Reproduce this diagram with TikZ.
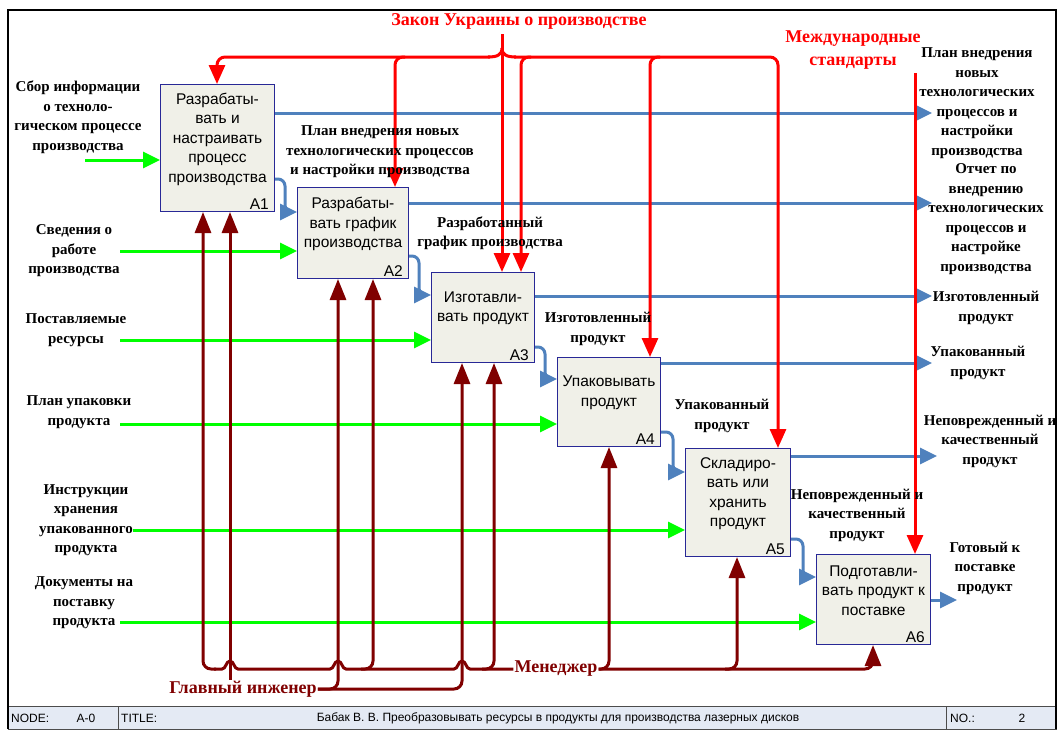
\documentclass[tikz,border=0pt]{standalone}
\usepackage{fontspec}
\setmainfont{Liberation Serif}
\setsansfont{Liberation Sans}
\usetikzlibrary{arrows.meta,calc}
\definecolor{cgreen}{RGB}{0,255,0}
\definecolor{cblue}{RGB}{79,129,189}
\definecolor{cred}{RGB}{255,0,0}
\definecolor{cmech}{RGB}{128,0,0}
\definecolor{boxfill}{RGB}{240,240,232}
\definecolor{boxline}{RGB}{40,40,150}
\definecolor{footfill}{RGB}{228,234,244}
\begin{document}
\begin{tikzpicture}[x=1pt,y=-1pt,
  box/.style={draw=boxline, fill=boxfill, line width=1pt, anchor=north west, inner sep=0pt},
  btext/.style={font=\sffamily\fontsize{15.5pt}{19.5pt}\selectfont, align=center, inner sep=0pt},
  bnum/.style={anchor=south east, font=\sffamily\fontsize{15.5pt}{18pt}\selectfont, inner xsep=6pt, inner ysep=2pt},
  lbl/.style={font=\bfseries\fontsize{15pt}{19.5pt}\selectfont, align=center, inner sep=0pt},
  redlbl/.style={font=\bfseries\fontsize{18pt}{23pt}\selectfont, text=cred, align=center, inner sep=0pt},
  mlbl/.style={font=\bfseries\fontsize{18pt}{23pt}\selectfont, text=cmech, inner sep=1pt},
  ftxt/.style={font=\sffamily\fontsize{12pt}{14pt}\selectfont, inner sep=0pt},
  gflow/.style={line width=3pt, draw=cgreen, -{Triangle[length=17pt,width=16pt]}},
  bflow/.style={line width=3pt, draw=cblue, rounded corners=7pt, -{Triangle[length=17pt,width=16pt]}},
  rflow/.style={line width=3pt, draw=cred, rounded corners=8pt, -{Triangle[length=19pt,width=16pt]}},
  rline/.style={line width=3pt, draw=cred},
  mflow/.style={line width=3pt, draw=cmech, rounded corners=8pt, -{Triangle[length=21pt,width=16pt]}},
  mline/.style={line width=3pt, draw=cmech}
]
\useasboundingbox (0,0) rectangle (1059,729);
\fill[white] (0,0) rectangle (1059,729);

% footer
\node[draw=black!70, fill=footfill, line width=0.8pt, minimum width=1048pt, minimum height=23pt, anchor=north west, inner sep=0pt] (foot) at (8,706) {};
\draw[black!70, line width=0.8pt] (118,706) -- (118,729) (946,706) -- (946,729);
\node[ftxt, anchor=west] (fnode) at (11,718) {NODE:};
\node[ftxt] (fnum) at (86,718) {A-0};
\node[ftxt, anchor=west] (ftitle) at (121,718) {TITLE:};
\node[ftxt] (ftext) at (558,718) {Бабак В. В. Преобразовывать ресурсы в продукты для производства лазерных дисков};
\node[ftxt, anchor=west] (fno) at (950,718) {NO.:};
\node[ftxt] (fno2) at (1022,718) {2};

% frame
\draw[line width=1.2pt] (8,729) -- (8,10) -- (1056,10) -- (1056,729);

% boxes
\node[box, minimum width=114pt, minimum height=127pt] (A1) at (160,84) {};
\node[box, minimum width=111pt, minimum height=91pt] (A2) at (297,187) {};
\node[box, minimum width=103pt, minimum height=90pt] (A3) at (431,272) {};
\node[box, minimum width=103pt, minimum height=89pt] (A4) at (557,357) {};
\node[box, minimum width=105pt, minimum height=108pt] (A5) at (685,448) {};
\node[box, minimum width=114pt, minimum height=90pt] (A6) at (816,554) {};

\node[btext] (A1t) at ($(A1.center)+(0,-9)$) {Разрабаты-\\вать и\\настраивать\\процесс\\производства};
\node[btext] (A2t) at ($(A2.center)+(0,-9)$) {Разрабаты-\\вать график\\производства};
\node[btext] (A3t) at ($(A3.center)+(0,-9)$) {Изготавли-\\вать продукт};
\node[btext] (A4t) at ($(A4.center)+(0,-9)$) {Упаковывать\\продукт};
\node[btext] (A5t) at ($(A5.center)+(0,-9)$) {Складиро-\\вать или\\хранить\\продукт};
\node[btext] (A6t) at ($(A6.center)+(0,-9)$) {Подготавли-\\вать продукт к\\поставке};
\node[bnum] (A1n) at (A1.south east) {A1};
\node[bnum] (A2n) at (A2.south east) {A2};
\node[bnum] (A3n) at (A3.south east) {A3};
\node[bnum] (A4n) at (A4.south east) {A4};
\node[bnum] (A5n) at (A5.south east) {A5};
\node[bnum] (A6n) at (A6.south east) {A6};

% free ends
\coordinate (g1) at (85,160);
\coordinate (g2) at (120,251);
\coordinate (g3) at (120,340);
\coordinate (g4) at (120,424);
\coordinate (g5) at (133,530);
\coordinate (g6) at (120,622);
\coordinate (o1) at (932,113);
\coordinate (o2) at (932,203);
\coordinate (o3) at (932,296);
\coordinate (o4) at (932,363);
\coordinate (o5) at (937,456);
\coordinate (o6) at (957,600);
\coordinate (lawsrc) at (502,34);
\coordinate (stdsrc) at (915,73);

% inputs
\draw[gflow] (g1) -- (A1.west |- g1);
\draw[gflow] (g2) -- (A2.west |- g2);
\draw[gflow] (g3) -- (A3.west |- g3);
\draw[gflow] (g4) -- (A4.west |- g4);
\draw[gflow] (g5) -- (A5.west |- g5);
\draw[gflow] (g6) -- (A6.west |- g6);

% outputs
\draw[bflow] (A1.east |- o1) -- (o1);
\draw[bflow] (A1.east |- 0,179) -- (285,179) -- (285,212) -- (A2.west |- 0,212);
\draw[bflow] (A2.east |- o2) -- (o2);
\draw[bflow] (A2.east |- 0,256) -- (419,256) -- (419,295) -- (A3.west |- 0,295);
\draw[bflow] (A3.east |- o3) -- (o3);
\draw[bflow] (A3.east |- 0,347) -- (545,347) -- (545,379) -- (A4.west |- 0,379);
\draw[bflow] (A4.east |- o4) -- (o4);
\draw[bflow] (A4.east |- 0,432) -- (673,432) -- (673,472) -- (A5.west |- 0,472);
\draw[bflow] (A5.east |- o5) -- (o5);
\draw[bflow] (A5.east |- 0,539) -- (803,539) -- (803,577) -- (A6.west |- 0,577);
\draw[bflow] (A6.east |- o6) -- (o6);

% controls
\draw[rflow] (lawsrc) -- (lawsrc |- A3.north);
\draw[rline] (488,57) .. controls (497,57) and (502,55) .. (502,48) .. controls (502,55) and (507,57) .. (516,57);
\draw[rflow] (490,57) -- (217,57) -- (217,0 |- A1.north);
\draw[rflow] (405,57) -- (395,57) -- (395,0 |- A2.north);
\draw[rflow] (531,57) -- (521,57) -- (521,0 |- A3.north);
\draw[rflow] (660,57) -- (650,57) -- (650,0 |- A4.north);
\draw[rflow] (514,57) -- (778,57) -- (778,0 |- A5.north);
\draw[rflow] (stdsrc) -- (stdsrc |- A6.north);

% labels
\node[redlbl] (law) at (519,21) {Закон Украины о производстве};
\node[redlbl] (std) at (853,50) {Международные\\стандарты};
\node[mlbl] (gi) at (243,689) {Главный инженер};
\node[mlbl] (mgr) at (556,669) {Менеджер};

% mechanisms: Менеджер
\draw[mline] (mgr.west) -- (470,669) .. controls (466,669) and (466,661) .. (462,661) .. controls (458,661) and (458,669) .. (454,669)
  -- (346,669) .. controls (342,669) and (342,661) .. (338,661) .. controls (334,661) and (334,669) .. (330,669)
  -- (238,669) .. controls (234,669) and (234,661) .. (230,661) .. controls (226,661) and (226,669) .. (222,669) -- (214,669);
\draw[mflow] (216,669) -- (203,669) -- (203,0 |- A1.south);
\draw[mflow] (361,669) -- (373,669) -- (373,0 |- A2.south);
\draw[mflow] (482,669) -- (494,669) -- (494,0 |- A3.south);
\draw[mflow] (mgr.east) -- (609,669) -- (609,0 |- A4.south);
\draw[mflow] (725,669) -- (737,669) -- (737,0 |- A5.south);
\draw[mflow] (mgr.east) -- (873,669) -- (873,0 |- A6.south);

% mechanisms: Главный инженер
\draw[mflow] (gi.east) -- (462,689) -- (462,0 |- A3.south);
\draw[mflow] (gi.east) -- (338,689) -- (338,0 |- A2.south);
\draw[mflow] (230,0 |- gi.north) -- (230,0 |- A1.south);

% black labels
\node[lbl] (L1) at (78,117) {Сбор информации\\о техноло-\\гическом процессе\\производства};
\node[lbl] (L2) at (74,251) {Сведения о\\работе\\производства};
\node[lbl] (L3) at (76,330) {Поставляемые\\ресурсы};
\node[lbl] (L4) at (79,412) {План упаковки\\продукта};
\node[lbl] (L5) at (86,520) {Инструкции\\хранения\\упакованного\\продукта};
\node[lbl] (L6) at (84,603) {Документы на\\поставку\\продукта};

\node[lbl] (R1) at (977,103) {План внедрения\\новых\\технологических\\процессов и\\настройки\\производства};
\node[lbl] (R2) at (986,219) {Отчет по\\внедрению\\технологических\\процессов и\\настройке\\производства};
\node[lbl] (R3) at (986,308) {Изготовленный\\продукт};
\node[lbl] (R4) at (978,363) {Упакованный\\продукт};
\node[lbl] (R5) at (990,441) {Неповрежденный и\\качественный\\продукт};
\node[lbl] (R6) at (985,568) {Готовый к\\поставке\\продукт};

\node[lbl] (M1) at (380,152) {План внедрения новых\\технологических процессов\\и настройки производства};
\node[lbl] (M2) at (490,233) {Разработанный\\график производства};
\node[lbl] (M3) at (598,329) {Изготовленный\\продукт};
\node[lbl] (M4) at (722,416) {Упакованный\\продукт};
\node[lbl] (M5) at (857,515) {Неповрежденный и\\качественный\\продукт};
\end{tikzpicture}
\end{document}
